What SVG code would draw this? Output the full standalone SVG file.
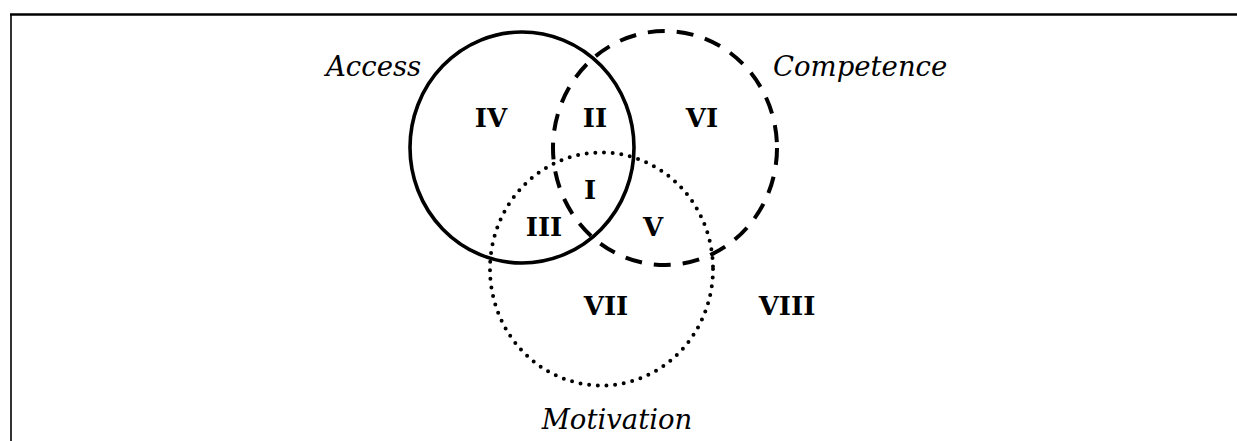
<svg xmlns="http://www.w3.org/2000/svg" width="1237" height="441" viewBox="0 0 1237 441">
<style>
.c{fill:none;stroke:#000}
.solid{stroke-width:3.6}
.dash{stroke-width:4;stroke-dasharray:17 12}
.dot{stroke-width:4;stroke-dasharray:0 8.7;stroke-linecap:round}
.lab{font-family:"DejaVu Serif",serif;font-style:italic;font-size:27.5px;fill:#000}
.num{font-family:"DejaVu Serif",serif;font-weight:bold;font-size:26px;fill:#000;text-anchor:middle}
</style>
<rect width="1237" height="441" fill="#fff"/>
<g id="frame">
<line x1="10" y1="14.5" x2="1237" y2="14.5" stroke="#000" stroke-width="2.6"/>
<line x1="11" y1="14" x2="11" y2="441" stroke="#000" stroke-width="1.6"/>
</g>
<g id="access">
<ellipse class="c solid" cx="522" cy="147.5" rx="112" ry="115.5"/>
<text class="lab" x="326" y="76">Access</text>
</g>
<g id="competence">
<ellipse class="c dash" cx="665" cy="148" rx="112" ry="117"/>
<text class="lab" x="773" y="76">Competence</text>
</g>
<g id="motivation">
<ellipse class="c dot" cx="601.5" cy="269" rx="111.5" ry="116.5"/>
<text class="lab" x="617" y="429" text-anchor="middle">Motivation</text>
</g>
<g id="regions">
<text class="num" x="491" y="127">IV</text>
<text class="num" x="595" y="127">II</text>
<text class="num" x="702" y="127">VI</text>
<text class="num" x="590" y="199">I</text>
<text class="num" x="544" y="236">III</text>
<text class="num" x="653" y="236">V</text>
<text class="num" x="606" y="315">VII</text>
<text class="num" x="787" y="315">VIII</text>
</g>
<g id="connectors"></g>
</svg>
